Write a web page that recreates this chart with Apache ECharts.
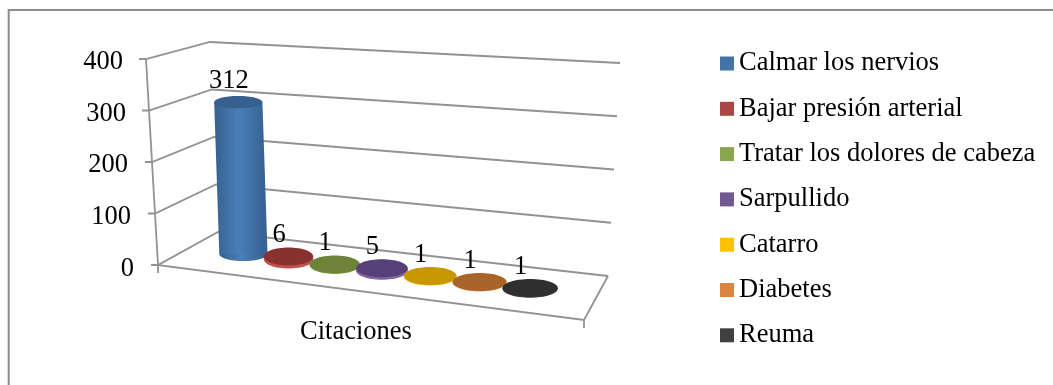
<!DOCTYPE html>
<html>
<head>
<meta charset="utf-8">
<style>
  html, body { margin: 0; padding: 0; background: #fff; }
  #chart { width: 1053px; height: 385px; }
</style>
</head>
<body>
<div id="chart"></div>
<script src="https://cdn.jsdelivr.net/npm/echarts@6/dist/echarts.min.js"></script>
<script>
const category = ["Citaciones"];
const remedios = ["Calmar los nervios", "Bajar presión arterial", "Tratar los dolores de cabeza", "Sarpullido", "Catarro", "Diabetes", "Reuma"];
const citas = [312, 6, 1, 5, 1, 1, 1];
const yTicks = [0, 100, 200, 300, 400];

const legendColors = ["#4572a7", "#aa4643", "#89a54e", "#71588f", "#ffc000", "#db843d", "#404040"];
const topColors = ["#36608f", "#893130", "#6b8437", "#573f78", "#c79800", "#a8642b", "#2f2f2f"];
const rimColors = ["#4a7eb8", "#c0504d", "#9bbb59", "#8064a2", "#ffc000", "#f0a060", "#404040"];

const FONT = "Liberation Serif";
const FONT_SIZE = 26.5;
const GRID_COLOR = "#929292";

// esquinas de la caja 3D, en pixeles de pantalla
const box = {
  frontBottomL: [158, 265], frontBottomR: [584, 320],
  backBottomL: [218, 232], backBottomR: [608, 276],
  frontTopL: [146, 59], frontTopR: [600, 89],
  backTopL: [210, 42], backTopR: [620, 63],
};
const PERSPECTIVE = 1.1;
const BAR_DEPTH = 0.53;
const BAR_SHIFT = -0.004;
const BAR_HEIGHT = 0.97;
const GAP_UNITS = 1.5;

function lerp(a, b, t) {
  return [a[0] + (b[0] - a[0]) * t, a[1] + (b[1] - a[1]) * t];
}

// u: a lo largo del eje x, v: altura, d: profundidad (todos de 0 a 1)
function project(u, v, d) {
  const f = u / (PERSPECTIVE - (PERSPECTIVE - 1) * u);
  const bottom = lerp(lerp(box.frontBottomL, box.frontBottomR, f), lerp(box.backBottomL, box.backBottomR, f), d);
  const top = lerp(lerp(box.frontTopL, box.frontTopR, f), lerp(box.backTopL, box.backTopR, f), d);
  return lerp(bottom, top, v);
}

function line(points) {
  return {
    type: "polyline",
    silent: true,
    shape: { points: points },
    style: { stroke: GRID_COLOR, lineWidth: 1.8, fill: null },
  };
}

// paredes, suelo y marcas de los ejes
function renderWalls(params, api) {
  const rect = params.coordSys;
  const v = (rect.y + rect.height - api.coord([0, api.value(0)])[1]) / rect.height;
  const front = project(0, v, 0);
  const children = [
    line([[front[0] - 7, front[1]], front, project(0, v, 1), project(1, v, 1)]),
  ];
  if (v === 0) {
    const fr = project(1, 0, 0);
    children.push(line([project(0, 1, 0), front]));
    children.push(line([[front[0], front[1] + 8], front, fr, project(1, 0, 1)]));
    children.push(line([fr, [fr[0], fr[1] + 8]]));
  }
  return { type: "group", children: children };
}

function renderCylinder(params, api) {
  const i = params.seriesIndex - 1;
  const rect = params.coordSys;
  const units = remedios.length + GAP_UNITS;
  const p = api.coord([api.value(0), api.value(1)]);
  const px = p[0] + (i - (remedios.length - 1) / 2) * (rect.width / units);
  const u = (px - rect.x) / rect.width + BAR_SHIFT;
  const v = ((rect.y + rect.height - p[1]) / rect.height) * BAR_HEIGHT;

  const base = project(u, 0, BAR_DEPTH);
  const top = project(u, v, BAR_DEPTH);
  const edgeL = project(u - 0.5 / units, 0, BAR_DEPTH);
  const edgeR = project(u + 0.5 / units, 0, BAR_DEPTH);
  const rx = ((edgeR[0] - edgeL[0]) / 2) * 1.08;
  const ryTop = 9 - 3.8 * v;
  const ryBase = ryTop + 1.3 * v;

  const side = new echarts.graphic.LinearGradient(0, 0, 1, 0, [
    { offset: 0, color: topColors[i] },
    { offset: 0.45, color: rimColors[i] },
    { offset: 1, color: topColors[i] },
  ]);

  return {
    type: "group",
    silent: true,
    children: [
      { type: "ellipse", shape: { cx: base[0], cy: base[1], rx: rx, ry: ryBase }, style: { fill: v > 0.1 ? side : rimColors[i] } },
      {
        type: "polygon",
        shape: { points: [[base[0] - rx, base[1]], [top[0] - rx, top[1]], [top[0] + rx, top[1]], [base[0] + rx, base[1]]] },
        style: { fill: v > 0.1 ? side : rimColors[i] },
      },
      { type: "ellipse", shape: { cx: top[0], cy: top[1], rx: rx, ry: ryTop }, style: { fill: topColors[i] } },
      {
        type: "text",
        style: {
          text: String(api.value(1)),
          x: top[0] - 9.5,
          y: top[1] - 21,
          fill: "#000",
          fontFamily: FONT,
          fontSize: FONT_SIZE,
          align: "center",
          verticalAlign: "middle",
        },
      },
    ],
  };
}

const tickRich = {};
yTicks.forEach((t) => {
  tickRich["t" + t] = { fontFamily: FONT, fontSize: FONT_SIZE, color: "#000", padding: [0, Math.round(t * 0.0275), 0, 0] };
});

const myChart = echarts.init(document.getElementById("chart"));

const series = [
  {
    name: "walls",
    type: "custom",
    renderItem: renderWalls,
    data: yTicks.map((t) => [t]),
    encode: { y: 0 },
    silent: true,
  },
];
remedios.forEach((name, i) => {
  series.push({
    name: name,
    type: "custom",
    renderItem: renderCylinder,
    itemStyle: { color: legendColors[i] },
    data: [[0, citas[i]]],
    encode: { x: 0, y: 1 },
  });
});

myChart.setOption({
  animation: false,
  backgroundColor: "#fff",
  grid: { left: 136, top: 62, width: 440, height: 207 },
  xAxis: {
    type: "category",
    data: category,
    axisLine: { show: false },
    axisTick: { show: false },
    axisLabel: { fontFamily: FONT, fontSize: FONT_SIZE, color: "#000", margin: 50 },
  },
  yAxis: {
    type: "value",
    min: 0,
    max: 400,
    interval: 100,
    axisLine: { show: false },
    axisTick: { show: false },
    splitLine: { show: false },
    axisLabel: {
      margin: 2,
      fontFamily: FONT,
      fontSize: FONT_SIZE,
      color: "#000",
      formatter: (value) => "{t" + value + "|" + value + "}",
      rich: tickRich,
    },
  },
  legend: {
    data: remedios,
    orient: "vertical",
    left: 715,
    top: 45,
    icon: "rect",
    itemWidth: 14,
    itemHeight: 14,
    itemGap: 18.3,
    textStyle: { fontFamily: FONT, fontSize: FONT_SIZE, color: "#000" },
    selectedMode: false,
  },
  graphic: [
    { type: "polyline", silent: true, shape: { points: [[8.7, 385], [8.7, 10], [1053, 10]] }, style: { stroke: "#8c8c8c", lineWidth: 2, fill: null } },
  ],
  series: series,
});
</script>
</body>
</html>
